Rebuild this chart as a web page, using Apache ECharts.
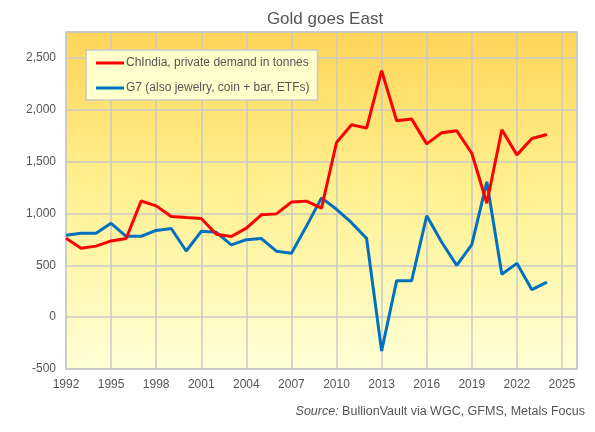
<!DOCTYPE html>
<html>
<head>
<meta charset="utf-8">
<script src="https://cdn.jsdelivr.net/npm/echarts@6/dist/echarts.min.js"></script>
<style>
  html, body { margin: 0; padding: 0; background: #ffffff; }
  #chart { width: 595px; height: 432px; }
</style>
</head>
<body>
<div id="chart"></div>
<script>
var years = [1992,1993,1994,1995,1996,1997,1998,1999,2000,2001,2002,2003,2004,2005,2006,2007,2008,2009,2010,2011,2012,2013,2014,2015,2016,2017,2018,2019,2020,2021,2022,2023,2024];
var chindia = [760,665,685,735,758,1120,1073,970,960,952,800,778,858,987,996,1110,1119,1051,1684,1855,1823,2377,1894,1910,1671,1778,1797,1581,1098,1807,1565,1723,1762];
var g7 = [790,810,810,905,780,780,836,855,638,828,818,697,747,758,636,616,878,1150,1040,911,760,-327,352,352,978,722,500,699,1305,413,519,265,337];
var seriesNames = ['ChIndia, private demand in tonnes', 'G7 (also jewelry, coin + bar, ETFs)'];
var titleText = 'Gold goes East';

function pairs(vals) { return years.map(function (y, i) { return [y, vals[i]]; }); }

var chart = echarts.init(document.getElementById('chart'), null, { renderer: 'canvas' });
var font = 'Liberation Sans, Arial, sans-serif';
chart.setOption({
  animation: false,
  backgroundColor: '#ffffff',
  textStyle: { fontFamily: font },
  title: {
    text: titleText,
    left: 320, top: 6, textAlign: 'center',
    textStyle: { fontSize: 17, fontWeight: 'normal', color: '#555555', fontFamily: font }
  },
  grid: {
    left: 66, right: 18, top: 32, bottom: 63,
    show: true,
    borderColor: '#c8c8c8', borderWidth: 1.5,
    backgroundColor: {
      type: 'linear', x: 0, y: 0, x2: 0, y2: 1,
      colorStops: [
        { offset: 0, color: '#FFD458' },
        { offset: 0.45, color: '#FFF08E' },
        { offset: 1, color: '#FFFFD6' }
      ]
    }
  },
  legend: {
    orient: 'vertical', left: 86, top: 50,
    backgroundColor: '#FFFFCC', borderColor: '#c8c8c8', borderWidth: 1.5,
    padding: [7, 8, 6, 10],
    itemWidth: 28, itemHeight: 3, itemGap: 13, icon: 'rect',
    textStyle: { fontSize: 12, color: '#555555', fontFamily: font, padding: [0, 0, 0, -3] },
    data: seriesNames
  },
  xAxis: {
    type: 'value', min: 1992, max: 2026, interval: 3,
    axisLine: { show: false }, axisTick: { show: false },
    splitLine: { show: true, lineStyle: { color: '#c8c8c8', width: 1.5 } },
    axisLabel: { showMaxLabel: false, color: '#555555', fontSize: 12, margin: 10, formatter: function (v) { return String(v); } }
  },
  yAxis: {
    type: 'value', min: -500, max: 2750, interval: 500,
    axisLine: { show: false }, axisTick: { show: false },
    splitLine: { show: true, lineStyle: { color: '#c8c8c8', width: 1.5 } },
    axisLabel: { showMaxLabel: false, color: '#555555', fontSize: 12, margin: 10,
      formatter: function (v) { return v.toLocaleString('en-US'); } }
  },
  graphic: [{
    type: 'text', right: 10, top: 405,
    style: {
      text: '{i|Source:} BullionVault via WGC, GFMS, Metals Focus',
      rich: { i: { fontStyle: 'italic', fontSize: 12.5, fill: '#555555', fontFamily: font } },
      fontSize: 12.5, fill: '#555555', fontFamily: font
    }
  }],
  series: [
    { name: seriesNames[0], type: 'line', data: pairs(chindia), showSymbol: false, symbol: 'none',
      lineStyle: { color: '#FF0000', width: 3 }, itemStyle: { color: '#FF0000' }, z: 3 },
    { name: seriesNames[1], type: 'line', data: pairs(g7), showSymbol: false, symbol: 'none',
      lineStyle: { color: '#0070C0', width: 3 }, itemStyle: { color: '#0070C0' }, z: 2 }
  ]
});
</script>
</body>
</html>
